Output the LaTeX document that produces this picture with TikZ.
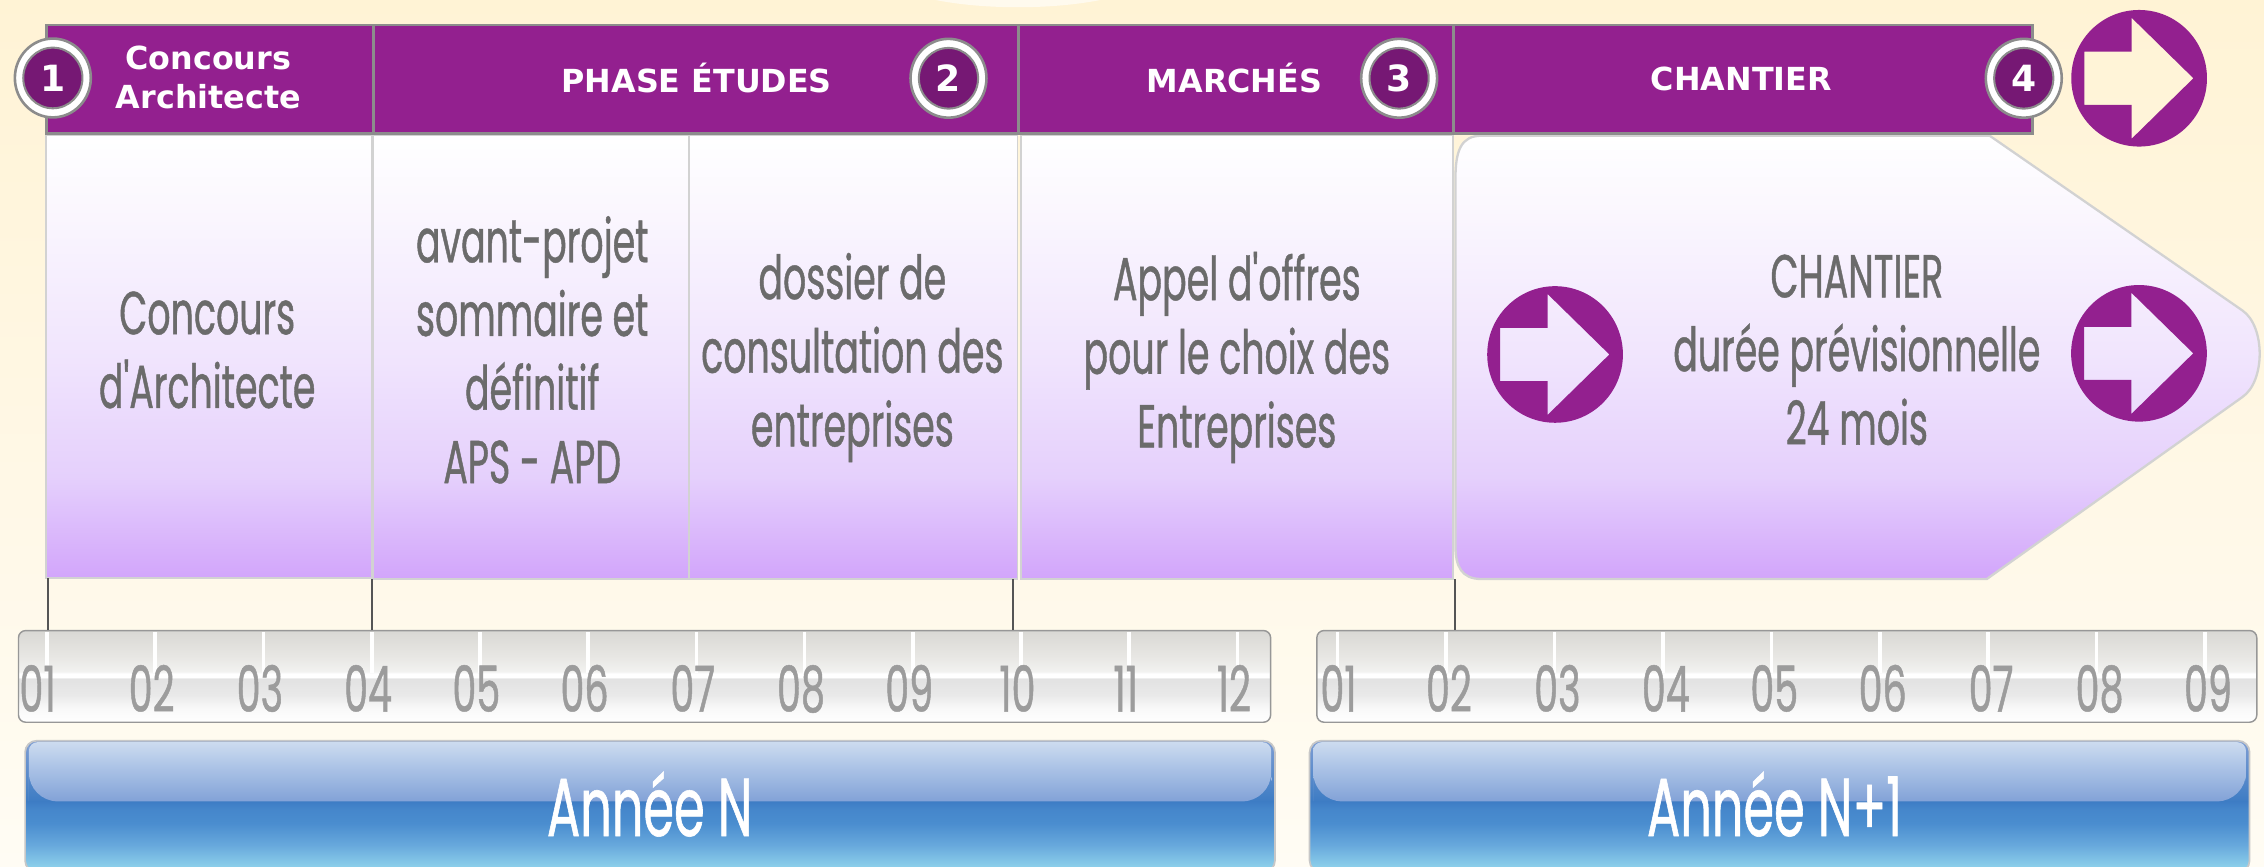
\documentclass[tikz,border=0pt]{standalone}
\usepackage{fontspec}
\newfontfamily\condfont[FakeStretch=0.6,FakeBold=0.7,Ligatures=TeXOff]{Poppins}
\newfontfamily\hdrfont{DejaVu Sans}

\definecolor{bgtop}{HTML}{FFF3D5}
\definecolor{bgbot}{HTML}{FFFCF4}
\definecolor{hpurple}{HTML}{93208F}
\definecolor{dpurple}{HTML}{761874}
\definecolor{hgray}{HTML}{8C8C8C}
\definecolor{txtgray}{HTML}{6B6B6B}
\definecolor{numgray}{HTML}{9C9C9C}
\definecolor{pborder}{HTML}{D2D2D2}
\definecolor{connc}{HTML}{555555}
\definecolor{pA}{HTML}{D2A5FB}
\definecolor{pB}{HTML}{E5D0FC}
\definecolor{pC}{HTML}{F0E4FD}
\definecolor{pD}{HTML}{FAF6FE}
\pgfdeclareverticalshading{panelshade}{100bp}{color(0bp)=(pA); color(25bp)=(pA); color(36.5bp)=(pB); color(49.5bp)=(pC); color(65.7bp)=(pD); color(75bp)=(white); color(100bp)=(white)}
\definecolor{rA}{HTML}{D9D8D4}
\definecolor{rB}{HTML}{E8E7E4}
\definecolor{rC}{HTML}{F2F2F0}
\definecolor{rD}{HTML}{E2E2E2}
\definecolor{rE}{HTML}{E9E9E9}
\definecolor{rF}{HTML}{F8F8F8}
\pgfdeclareverticalshading{rulershade}{100bp}{color(0bp)=(white); color(25bp)=(white); color(33bp)=(rF); color(40bp)=(rE); color(48.8bp)=(rD); color(49.6bp)=(white); color(51.5bp)=(white); color(52.7bp)=(rC); color(60.5bp)=(rB); color(75bp)=(rA); color(100bp)=(rA)}
\definecolor{bA}{HTML}{8FD2EB}
\definecolor{bB}{HTML}{8BCEEA}
\definecolor{bC}{HTML}{67A8DC}
\definecolor{bD}{HTML}{4A8DCF}
\definecolor{bE}{HTML}{4586CB}
\definecolor{bF}{HTML}{3D7CC4}
\definecolor{bG}{HTML}{7E9ED4}
\pgfdeclareverticalshading{blueshade}{100bp}{color(0bp)=(bA); color(25bp)=(bA); color(27.2bp)=(bB); color(35.4bp)=(bC); color(43.7bp)=(bD); color(49.2bp)=(bE); color(51.9bp)=(bF); color(75bp)=(bG); color(100bp)=(bG)}
\definecolor{gA}{HTML}{82A2D7}
\definecolor{gB}{HTML}{AEC5E7}
\definecolor{gC}{HTML}{CCDBEF}
\pgfdeclareverticalshading{glossshade}{100bp}{color(0bp)=(gA); color(25bp)=(gA); color(55.5bp)=(gB); color(75bp)=(gC); color(100bp)=(gC)}

\tikzset{
  panelbox/.style={shade, shading=panelshade, draw=pborder, line width=0.6pt, inner sep=0pt},
  hcell/.style={fill=hpurple, draw=hgray, line width=0.9pt, inner sep=0pt},
  hlabel/.style={text=white, font=\hdrfont\bfseries\fontsize{11}{13.25}\selectfont, align=center, inner sep=0pt, execute at begin node=\strut, execute at end node=\strut},
  bodytext/.style={text=txtgray, font=\condfont\fontsize{21}{25.5}\selectfont, align=center, inner sep=0pt, execute at begin node=\strut, execute at end node=\strut},
  rulerbox/.style={shade, shading=rulershade, draw=hgray!90, line width=0.5pt, rounded corners=2.5pt, inner sep=0pt},
  tickline/.style={white, line width=1.25pt},
  month/.style={text=numgray, font=\condfont\fontsize{22}{22}\selectfont, inner sep=0pt, anchor=base},
  conn/.style={connc, line width=0.7pt},
  yearbar/.style={shade, shading=blueshade, draw=black!22, line width=0.6pt, rounded corners=4pt, inner sep=0pt},
  yearlabel/.style={text=white, font=\condfont\fontsize{28.5}{30}\selectfont, inner sep=0pt, anchor=base},
  badgenum/.style={text=white, font=\hdrfont\bfseries\fontsize{12.5}{12.5}\selectfont, inner sep=0pt},
}

\newcommand\stepbadge[2]{%
  \filldraw[fill=white, draw=hgray, line width=0.9pt] (#1) ellipse [x radius=26.3, y radius=27.3];
  \filldraw[fill=dpurple, draw=hgray, line width=0.7pt] (#1) ellipse [x radius=20.5, y radius=21];
  \node[badgenum] (#1n) at (#1) {#2};}

\newcommand\arrowdisc[1]{%
  \begin{scope}[shift={(#1)}]
  \fill[hpurple, even odd rule] (0,0) ellipse [x radius=47, y radius=47.3]
    (-38,-18.4) -- (-5.2,-18.4) -- (-5.2,-41.9) -- (37.6,0) -- (-5.2,41.9) -- (-5.2,18.4) -- (-38,18.4) -- cycle;
  \end{scope}}

\begin{document}
\begin{tikzpicture}[x=0.5pt,y=-0.5pt]
\useasboundingbox (0,0) rectangle (1568,600);
\clip (0,0) rectangle (1568,600);
% background
\shade[top color=bgtop, bottom color=bgbot] (0,0) rectangle (1568,600);
\fill[white, opacity=0.6] (705,-20) ellipse [x radius=95, y radius=25];

% body panels
\node[panelbox, minimum width=112.85pt, minimum height=153.5pt] (p1) at (144.65,247) {};
\node[panelbox, minimum width=109.25pt, minimum height=153.75pt] (p2) at (367.75,247.25) {};
\node[panelbox, minimum width=113.85pt, minimum height=153.75pt] (p3) at (590.85,247.25) {};
\node[panelbox, minimum width=149.7pt, minimum height=153.75pt] (p4) at (856.7,247.25) {};
\shade[shading=panelshade, draw=pborder, line width=0.8pt]
  (1008,124) .. controls (1008,104) and (1012,94) .. (1026,94)
  -- (1378,94) -- (1553,215) .. controls (1569,226) and (1569,264) .. (1553,275)
  -- (1376,401) -- (1026,401) .. controls (1012,401) and (1008,392) .. (1008,378) -- cycle;
\coordinate (p5) at (1286,247);

% header
\node[hcell, minimum width=113.25pt, minimum height=37.5pt] (h1) at (145.25,54.8) {};
\node[hcell, minimum width=223.35pt, minimum height=37.5pt] (h2) at (481.85,54.8) {};
\node[hcell, minimum width=150.65pt, minimum height=37.5pt] (h3) at (855.85,54.8) {};
\node[hcell, minimum width=200.55pt, minimum height=37.5pt] (h4) at (1207.05,54.8) {};

\node[hlabel] (l1) at (144.3,57.5) {Concours\\Architecte};
\node[hlabel] (l2) at (482.5,57.5) {PHASE ÉTUDES};
\node[hlabel] (l3) at (855,57.5) {MARCHÉS};
\node[hlabel] (l4) at (1206,57.5) {CHANTIER};

\coordinate (b1) at (36.6,54);
\coordinate (b2) at (656.9,54.2);
\coordinate (b3) at (969,54.2);
\coordinate (b4) at (1401.6,54.2);
\stepbadge{b1}{1}
\stepbadge{b2}{2}
\stepbadge{b3}{3}
\stepbadge{b4}{4}

% arrow discs
\coordinate (a0) at (1481.5,54.2);
\coordinate (a1) at (1077,245.5);
\coordinate (a2) at (1481.4,244.7);
\arrowdisc{a0}
\arrowdisc{a1}
\arrowdisc{a2}

% body texts
\node[bodytext] (t1) at (143.5,249.8) {Concours\\d'Architecte};
\node[bodytext] (t2) at (368.6,249.8) {avant-projet\\sommaire et\\définitif\\APS - APD};
\node[bodytext] (t3) at (590.3,249.8) {dossier de\\consultation des\\entreprises};
\node[bodytext] (t4) at (856.6,249.8) {Appel d'offres\\pour le choix des\\Entreprises};
\node[bodytext] (t5) at (1286,249.8) {CHANTIER\\durée prévisionnelle\\24 mois};

% rulers
\node[rulerbox, minimum width=433.6pt, minimum height=31.75pt] (rN) at (446.4,468.45) {};
\node[rulerbox, minimum width=325.5pt, minimum height=31.75pt] (rM) at (1237.5,468.45) {};
\foreach \k in {1,...,12}{
  \draw[tickline] ({32.6+74.95*(\k-1)},437.6) -- ({32.6+74.95*(\k-1)},466);
}
\foreach \k in {1,...,9}{
  \draw[tickline] ({926.4+75.1*(\k-1)},437.6) -- ({926.4+75.1*(\k-1)},466);
}
\node[month] (mN1) at (26,492.9) {01};
\foreach \k/\lab in {2/02,3/03,4/04,5/05,6/06,7/07,8/08,9/09,10/10,11/11,12/12}{
  \node[month] (mN\k) at ({30.1+74.95*(\k-1)},492.9) {\lab};
}
\node[month] (mM1) at (927,492.9) {01};
\foreach \k/\lab in {2/02,3/03,4/04,5/05,6/06,7/07,8/08,9/09}{
  \node[month] (mM\k) at ({928.4+75.1*(\k-1)},492.9) {\lab};
}

% connectors
\coordinate (c1) at (33.5,400.5);
\coordinate (c2) at (257.5,401);
\coordinate (c3) at (701.5,401);
\coordinate (c4) at (1007.5,401);
\draw[conn] (c1) -- (c1 |- rN.north);
\draw[conn] (c2) -- (c2 |- rN.north);
\draw[conn] (c3) -- (c3 |- rN.north);
\draw[conn] (c4) -- (c4 |- rM.north);

% year bars
\node[yearbar, minimum width=432.8pt, minimum height=45.5pt] (yN) at (450.2,558.5) {};
\node[yearbar, minimum width=325.5pt, minimum height=45.5pt] (yM) at (1232.5,558.5) {};
\shade[shading=glossshade, rounded corners=3pt] (20,535) -- (20,514) -- (880.4,514) -- (880.4,535) [rounded corners=10pt] -- (880.4,555) -- (20,555) -- cycle;
\shade[shading=glossshade, rounded corners=3pt] (909.5,535) -- (909.5,514) -- (1555.5,514) -- (1555.5,535) [rounded corners=10pt] -- (1555.5,555) -- (909.5,555) -- cycle;
\node[yearlabel] (yNl) at (450,579) {Année N};
\node[yearlabel] (yMl) at (1229,579) {Année N+1};
\end{tikzpicture}
\end{document}
